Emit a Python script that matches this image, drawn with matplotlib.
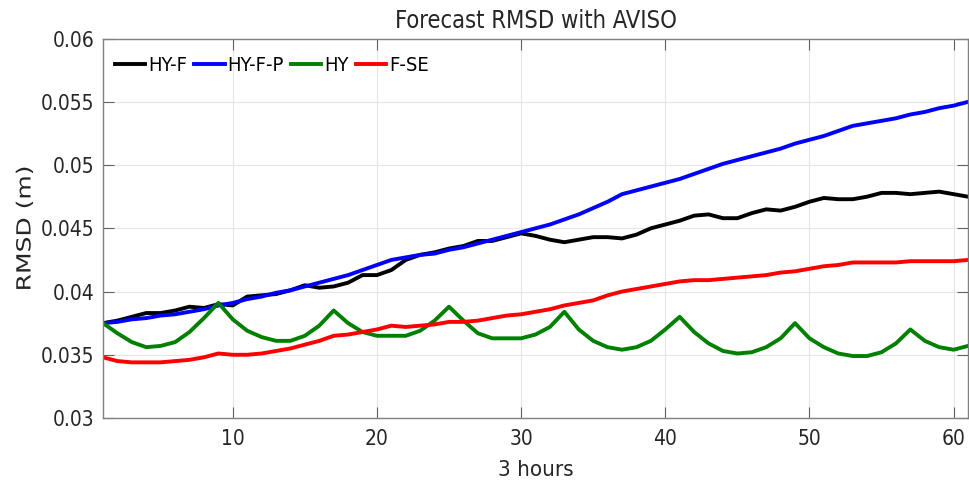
import matplotlib
matplotlib.use('Agg')
import matplotlib.pyplot as plt
from matplotlib.patheffects import AbstractPathEffect
from matplotlib.transforms import Affine2D
import numpy as np

# forecast step index (3-hourly)
steps = np.arange(1, 62)

hy_f = [0.0375, 0.0377, 0.0380, 0.0383, 0.0383, 0.0385, 0.0388, 0.0387, 0.0390, 0.0389,
        0.0396, 0.0397, 0.0398, 0.0401, 0.0405, 0.0403, 0.0404, 0.0407, 0.0413, 0.0413,
        0.0417, 0.0425, 0.0429, 0.0431, 0.0434, 0.0436, 0.0440, 0.0440, 0.0443, 0.0446,
        0.0444, 0.0441, 0.0439, 0.0441, 0.0443, 0.0443, 0.0442, 0.0445, 0.0450, 0.0453,
        0.0456, 0.0460, 0.0461, 0.0458, 0.0458, 0.0462, 0.0465, 0.0464, 0.0467, 0.0471,
        0.0474, 0.0473, 0.0473, 0.0475, 0.0478, 0.0478, 0.0477, 0.0478, 0.0479, 0.0477,
        0.0475]

hy_f_p = [0.0375, 0.0376, 0.0378, 0.0379, 0.0381, 0.0382, 0.0384, 0.0386, 0.0389, 0.0391,
          0.0394, 0.0396, 0.0399, 0.0401, 0.0404, 0.0407, 0.0410, 0.0413, 0.0417, 0.0421,
          0.0425, 0.0427, 0.0429, 0.0430, 0.0433, 0.0435, 0.0438, 0.0441, 0.0444, 0.0447,
          0.0450, 0.0453, 0.0457, 0.0461, 0.0466, 0.0471, 0.0477, 0.0480, 0.0483, 0.0486,
          0.0489, 0.0493, 0.0497, 0.0501, 0.0504, 0.0507, 0.0510, 0.0513, 0.0517, 0.0520,
          0.0523, 0.0527, 0.0531, 0.0533, 0.0535, 0.0537, 0.0540, 0.0542, 0.0545, 0.0547,
          0.0550]

hy = [0.0375, 0.0367, 0.0360, 0.0356, 0.0357, 0.0360, 0.0368, 0.0379, 0.0391, 0.0378,
      0.0369, 0.0364, 0.0361, 0.0361, 0.0365, 0.0373, 0.0385, 0.0375, 0.0368, 0.0365,
      0.0365, 0.0365, 0.0369, 0.0377, 0.0388, 0.0377, 0.0367, 0.0363, 0.0363, 0.0363,
      0.0366, 0.0372, 0.0384, 0.0370, 0.0361, 0.0356, 0.0354, 0.0356, 0.0361, 0.0370,
      0.0380, 0.0368, 0.0359, 0.0353, 0.0351, 0.0352, 0.0356, 0.0363, 0.0375, 0.0363,
      0.0356, 0.0351, 0.0349, 0.0349, 0.0352, 0.0359, 0.0370, 0.0361, 0.0356, 0.0354,
      0.0357]

f_se = [0.0348, 0.0345, 0.0344, 0.0344, 0.0344, 0.0345, 0.0346, 0.0348, 0.0351, 0.0350,
        0.0350, 0.0351, 0.0353, 0.0355, 0.0358, 0.0361, 0.0365, 0.0366, 0.0368, 0.0370,
        0.0373, 0.0372, 0.0373, 0.0374, 0.0376, 0.0376, 0.0377, 0.0379, 0.0381, 0.0382,
        0.0384, 0.0386, 0.0389, 0.0391, 0.0393, 0.0397, 0.0400, 0.0402, 0.0404, 0.0406,
        0.0408, 0.0409, 0.0409, 0.0410, 0.0411, 0.0412, 0.0413, 0.0415, 0.0416, 0.0418,
        0.0420, 0.0421, 0.0423, 0.0423, 0.0423, 0.0423, 0.0424, 0.0424, 0.0424, 0.0424,
        0.0425]

series = [('HY-F', hy_f, 'black'),
          ('HY-F-P', hy_f_p, 'blue'),
          ('HY', hy, 'green'),
          ('F-SE', f_se, 'red')]

ytick_vals = [0.03, 0.035, 0.04, 0.045, 0.05, 0.055, 0.06]
ytick_text = ['0.03', '0.035', '0.04', '0.045', '0.05', '0.055', '0.06']
xtick_vals = [10, 20, 30, 40, 50, 60]

# condensed DejaVu for the horizontal text
NARROW = dict(family='DejaVu Sans', stretch='condensed')
INK = '#262626'


class FlatGlyphs(AbstractPathEffect):
    """Squash glyph height toward the baseline, keeping the run length."""

    def __init__(self, sy=0.8):
        super().__init__()
        self.sy = sy

    def draw_path(self, renderer, gc, tpath, affine, rgbFace=None):
        renderer.draw_path(gc, tpath, Affine2D().scale(1.0, self.sy) + affine, rgbFace)


fig = plt.figure(figsize=(9.69, 4.87), dpi=100)
ax = fig.add_axes([0.1063, 0.1417, 0.8927, 0.779])

for name, vals, col in series:
    ax.plot(steps, vals, color=col, lw=2.8, label=name)

ax.set_xlim(1, 61)
ax.set_ylim(0.03, 0.06)
ax.set_xticks(xtick_vals)
ax.set_yticks(ytick_vals)
ax.set_yticklabels(ytick_text)
ax.grid(True, color='#e6e6e6', lw=0.8)
ax.set_axisbelow(True)

for sp in ax.spines.values():
    sp.set_color('#808080')
    sp.set_linewidth(1.0)
ax.tick_params(direction='in', length=8, width=0.8, color='#606060',
               top=True, right=True, labelsize=15, labelcolor=INK)
ax.tick_params(axis='x', pad=8)
ax.tick_params(axis='y', pad=6)
for lab in ax.get_xticklabels() + ax.get_yticklabels():
    lab.set_family(NARROW['family'])
    lab.set_stretch(NARROW['stretch'])

ax.set_title('Forecast RMSD with AVISO', fontsize=17, color=INK, pad=8, **NARROW)
ax.set_xlabel('3 hours', fontsize=16, color=INK, labelpad=8, **NARROW)
ylab = ax.set_ylabel('RMSD (m)', fontsize=18, color=INK, labelpad=4)
ylab.set_path_effects([FlatGlyphs(0.78)])

ax.legend(loc='center left', ncol=4, frameon=False,
          prop={'family': 'DejaVu Sans', 'stretch': 'condensed', 'size': 14.5},
          handlelength=1.5, handletextpad=0.15, columnspacing=0.35,
          borderpad=0.0, borderaxespad=0.0,
          bbox_to_anchor=(0.014, 0.928))

fig.savefig('out.png', dpi=100)
